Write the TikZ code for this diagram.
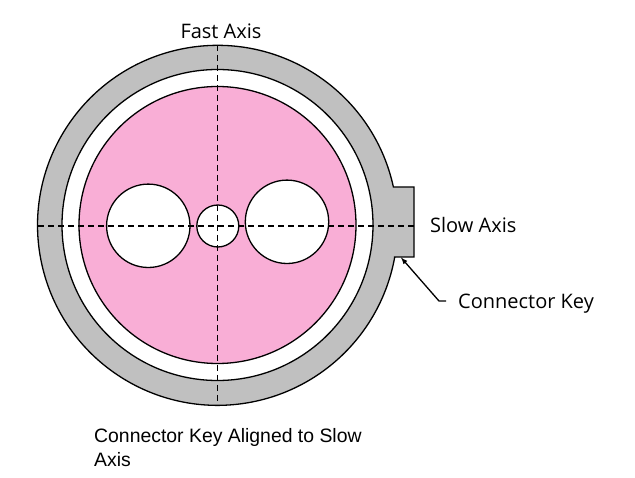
\documentclass[tikz,border=0pt]{standalone}
\usepackage{fontspec}
\setmainfont{Open Sans}
\newfontfamily\notefont{Liberation Sans}
\definecolor{ringgray}{RGB}{192,192,192}
\definecolor{corepink}{RGB}{249,174,214}
\tikzset{
  axisline/.style={draw=black,dashed,dash pattern=on 6pt off 4pt,line width=1.2pt},
  fibreline/.style={draw=black,line width=1.3pt},
  hole/.style={fibreline,fill=white},
  axislabel/.style={inner sep=0pt,font=\fontsize{20}{24}\selectfont},
}
\begin{document}
\begin{tikzpicture}[x=1pt,y=-1pt]
    \useasboundingbox (0,0) rectangle (635,478);

    % ferrule with its key
    \draw[fibreline,fill=ringgray] (394.6,257) -- (414,257) -- (414,187) -- (393.4,187) arc (347.7:10.24:180) -- cycle;
    \draw[fibreline,fill=white] (217.5,225) circle (155.5);
    \draw[fibreline,fill=corepink] (217.5,225) circle (138.5);

    % stress rods and core
    \draw[hole] (148.3,225.8) circle (41.7);
    \draw[hole] (287,221.8) circle (41.7);
    \draw[hole] (217.8,226) circle (21);

    \coordinate (fastTop) at (217.5,45);
    \coordinate (fastBottom) at (217.5,404);
    \coordinate (slowLeft) at (38,226);
    \coordinate (slowRight) at (414,226);
    \draw[axisline] (fastTop) -- (fastBottom);
    \draw[axisline] (slowLeft) -- (slowRight);

    \node[axislabel,anchor=base] (fastLabel) at (221,38.3) {Fast Axis};
    \node[axislabel,anchor=base west] (slowLabel) at (430,232.7) {Slow Axis};
    \node[axislabel,anchor=base west] (keyLabel) at (458,308.3) {Connector Key};
    \node[anchor=north west,inner sep=0pt,align=left,font=\notefont\fontsize{19.4}{24}\selectfont] (noteLabel) at (94,428) {Connector Key Aligned to Slow\\Axis};

    \coordinate (keyTip) at (401,257.5);
    \coordinate (keyTurn) at (439,301);
    \coordinate (keyEnd) at (446,301);
    \draw[line width=1.3pt,-latex] (keyEnd) -- (keyTurn) -- (keyTip);
\end{tikzpicture}
\end{document}
